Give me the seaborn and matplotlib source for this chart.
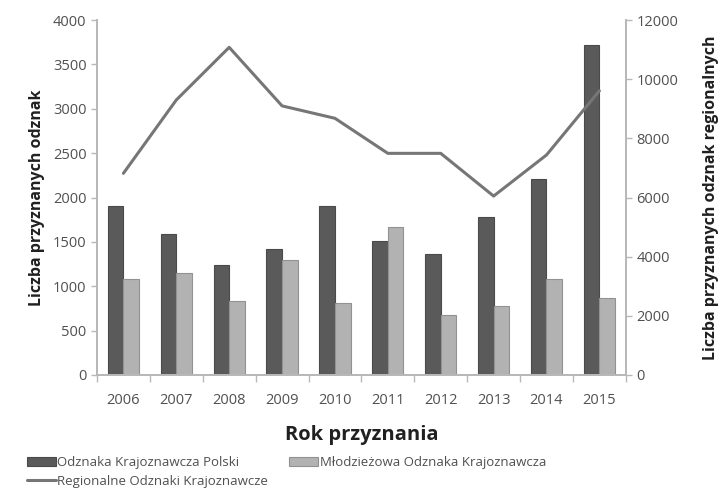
import numpy as np
import pandas as pd
import matplotlib
matplotlib.use("Agg")
import matplotlib.pyplot as plt
import seaborn as sns

years = ["2006", "2007", "2008", "2009", "2010", "2011", "2012", "2013", "2014", "2015"]
okp = [1905, 1585, 1237, 1425, 1900, 1515, 1360, 1777, 2205, 3720]
mok = [1078, 1146, 838, 1298, 815, 1665, 672, 775, 1080, 864]
rok = [6820, 9300, 11080, 9100, 8680, 7495, 7495, 6050, 7440, 9610]

nameOkp = "Odznaka Krajoznawcza Polski"
nameMok = "Młodzieżowa Odznaka Krajoznawcza"
nameRok = "Regionalne Odznaki Krajoznawcze"

sns.set_style("white")
plt.rcParams["font.family"] = ["Open Sans", "DejaVu Sans"]

barDf = pd.DataFrame({
    "rok": years * 2,
    "liczba": okp + mok,
    "seria": [nameOkp] * len(years) + [nameMok] * len(years),
})
lineDf = pd.DataFrame({"rok": years, "liczba": rok})

fig = plt.figure(figsize=(7.21, 4.91), dpi=100)
ax = fig.add_axes([0.1345, 0.2363, 0.7335, 0.7227])

sns.barplot(data=barDf, x="rok", y="liczba", hue="seria",
            palette=["#5a5a5a", "#b2b2b2"], width=0.59,
            linewidth=0.8, ax=ax)
ax.get_legend().remove()
# slightly darker outline than the fill, like the original
for p in ax.patches:
    fc = np.array(p.get_facecolor()[:3])
    p.set_edgecolor(tuple(fc * 0.82))

ax2 = ax.twinx()
sns.lineplot(data=lineDf, x="rok", y="liczba", color="#767676",
             linewidth=2.2, ax=ax2, label=nameRok)
ax2.get_legend().remove()

txtColor = "#505050"
spineColor = "#b8b8b8"

ax.set_xlim(-0.5, 9.5)
ax.set_ylim(0, 4000)
ax.set_yticks(np.arange(0, 4001, 500))
ax2.set_ylim(0, 12000)
ax2.set_yticks(np.arange(0, 12001, 2000))

for a in (ax, ax2):
    for s in a.spines.values():
        s.set_color(spineColor)
        s.set_linewidth(1.3)
    a.spines["top"].set_visible(False)
    a.tick_params(axis="y", colors=spineColor, labelcolor=txtColor,
                  labelsize=10.5, length=4, width=1)

ax.set_xticks(np.arange(-0.5, 10, 1), minor=True)
ax.tick_params(axis="x", which="major", length=0, labelsize=10.5,
               labelcolor=txtColor, pad=13)
ax.tick_params(axis="x", which="minor", length=5, width=1,
               colors=spineColor, bottom=True)

ax.set_xlabel("Rok przyznania", fontsize=14.5, fontweight="bold",
              color="#202020", labelpad=12)
ax.set_ylabel("Liczba przyznanych odznak", fontsize=11.5,
              fontweight="bold", color="#202020", labelpad=6)
ax2.set_ylabel("Liczba przyznanych odznak regionalnych", fontsize=11.5,
               fontweight="bold", color="#202020", labelpad=18)
ax2.set_xlabel("")

h1, l1 = ax.get_legend_handles_labels()
h2, l2 = ax2.get_legend_handles_labels()
handles = [h1[0], h2[0], h1[1]]
labels = [l1[0], l2[0], l1[1]]
fig.legend(handles, labels, ncol=2, loc="lower left",
           bbox_to_anchor=(0.03, -0.004), frameon=False, fontsize=9.5,
           labelcolor=txtColor, handlelength=2.2, handletextpad=0.1,
           columnspacing=1.6, borderaxespad=0.0, labelspacing=0.4)

fig.savefig("out.png", dpi=100)
